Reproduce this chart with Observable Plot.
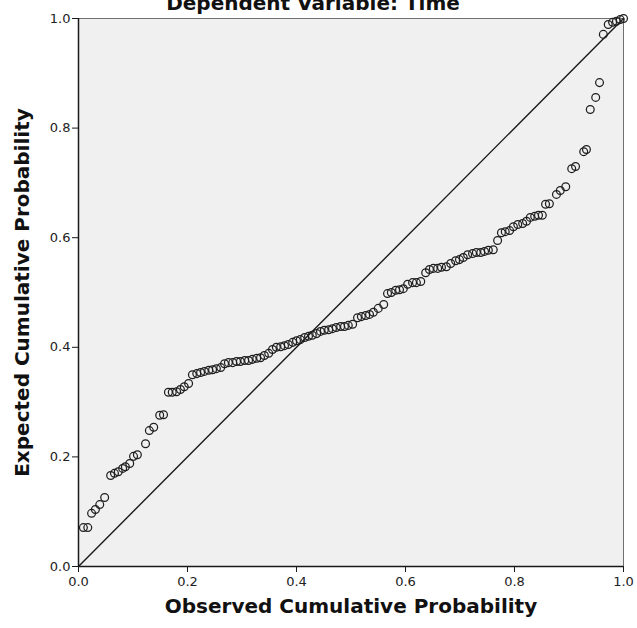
<!DOCTYPE html>
<html>
<head>
<meta charset="utf-8">
<script src="https://cdn.jsdelivr.net/npm/d3@7"></script>
<script src="https://cdn.jsdelivr.net/npm/@observablehq/plot@0.6"></script>
<style>
  body { margin: 0; background: #fff; }
</style>
</head>
<body>
<div id="chart"></div>
<script>
// Normal P-P plot of regression standardized residuals (dependent variable: Time)
const observed = [
  0.009, 0.017, 0.024, 0.031, 0.039, 0.048, 0.059, 0.066, 0.073, 0.081,
  0.086, 0.094, 0.101, 0.108, 0.123, 0.130, 0.138, 0.149, 0.156, 0.165,
  0.172, 0.180, 0.187, 0.194, 0.202, 0.209, 0.217, 0.224, 0.231, 0.239,
  0.246, 0.253, 0.261, 0.268, 0.275, 0.283, 0.290, 0.297, 0.305, 0.312,
  0.319, 0.327, 0.334, 0.341, 0.349, 0.356, 0.363, 0.371, 0.378, 0.385,
  0.393, 0.400, 0.407, 0.415, 0.422, 0.429, 0.437, 0.444, 0.451, 0.459,
  0.466, 0.473, 0.481, 0.488, 0.495, 0.503, 0.512, 0.519, 0.527, 0.534,
  0.541, 0.550, 0.560, 0.567, 0.574, 0.582, 0.589, 0.596, 0.604, 0.613,
  0.620, 0.628, 0.637, 0.644, 0.651, 0.659, 0.666, 0.675, 0.683, 0.692,
  0.699, 0.706, 0.714, 0.723, 0.730, 0.738, 0.745, 0.752, 0.761, 0.769,
  0.776, 0.783, 0.791, 0.798, 0.806, 0.815, 0.822, 0.829, 0.837, 0.844,
  0.851, 0.857, 0.864, 0.877, 0.884, 0.894, 0.905, 0.912, 0.927, 0.932,
  0.939, 0.949, 0.956, 0.963, 0.972, 0.980, 0.987, 0.994, 1.000
];
const expected = [
  0.071, 0.071, 0.097, 0.104, 0.113, 0.126, 0.166, 0.170, 0.173, 0.179,
  0.182, 0.188, 0.201, 0.204, 0.224, 0.248, 0.254, 0.276, 0.277, 0.318,
  0.318, 0.319, 0.323, 0.328, 0.334, 0.350, 0.352, 0.354, 0.356, 0.358,
  0.359, 0.361, 0.363, 0.370, 0.372, 0.372, 0.374, 0.374, 0.376, 0.376,
  0.378, 0.380, 0.381, 0.385, 0.389, 0.396, 0.400, 0.401, 0.403, 0.405,
  0.409, 0.412, 0.414, 0.418, 0.420, 0.422, 0.425, 0.429, 0.431, 0.432,
  0.434, 0.436, 0.438, 0.438, 0.440, 0.442, 0.454, 0.456, 0.458, 0.460,
  0.464, 0.471, 0.478, 0.498, 0.500, 0.504, 0.505, 0.507, 0.515, 0.518,
  0.518, 0.520, 0.536, 0.542, 0.544, 0.544, 0.546, 0.547, 0.553, 0.558,
  0.560, 0.564, 0.569, 0.571, 0.573, 0.573, 0.575, 0.577, 0.578, 0.595,
  0.609, 0.611, 0.613, 0.620, 0.624, 0.626, 0.630, 0.637, 0.639, 0.641,
  0.641, 0.661, 0.662, 0.679, 0.686, 0.693, 0.726, 0.730, 0.757, 0.761,
  0.834, 0.856, 0.883, 0.971, 0.989, 0.993, 0.995, 0.998, 1.000
];
const tickValues = [0, 0.2, 0.4, 0.6, 0.8, 1.0];
const diagonal = [0, 1];
const chartTitle = "Dependent Variable: Time";
const xTitle = "Observed Cumulative Probability";
const yTitle = "Expected Cumulative Probability";

const points = observed.map((x, i) => ({x, y: expected[i]}));

const chart = Plot.plot({
  width: 637,
  height: 628,
  marginLeft: 78,
  marginRight: 14,
  marginTop: 18,
  marginBottom: 62,
  style: {fontFamily: "DejaVu Sans", fontSize: "12px", background: "#fff", color: "#222"},
  x: {domain: [0, 1], axis: null},
  y: {domain: [0, 1], axis: null},
  marks: [
    Plot.frame({fill: "#f0f0f0"}),
    Plot.frame({stroke: "#707070", strokeWidth: 1}),
    Plot.line(diagonal, {x: d => d, y: d => d, stroke: "#1a1a1a", strokeWidth: 1.4}),
    Plot.dot(points, {x: "x", y: "y", r: 3.9, stroke: "#1e1e1e", strokeWidth: 1.25, fill: "none"}),
    Plot.ruleX([0], {stroke: "#1a1a1a", strokeWidth: 1.5}),
    Plot.ruleY([0], {stroke: "#1a1a1a", strokeWidth: 1.5}),
    Plot.axisX({ticks: tickValues, tickFormat: d3.format(".1f"), tickSize: 6, tickPadding: 4, label: null, fontSize: 13, stroke: "#1a1a1a"}),
    Plot.axisY({ticks: tickValues, tickFormat: d3.format(".1f"), tickSize: 6, tickPadding: 2, label: null, fontSize: 13, stroke: "#1a1a1a"}),
    Plot.text([xTitle], {frameAnchor: "bottom", dy: 46, textAnchor: "middle", fontSize: 20, fontWeight: "bold", fill: "#111"}),
    Plot.text([yTitle], {frameAnchor: "left", dx: -56, textAnchor: "middle", rotate: -90, fontSize: 20, fontWeight: "bold", fill: "#111"}),
    Plot.text([chartTitle], {frameAnchor: "top", dx: -38, dy: -9, textAnchor: "middle", lineAnchor: "bottom", fontSize: 20, fontWeight: "bold", fill: "#111"})
  ]
});

document.getElementById("chart").appendChild(chart);
</script>
</body>
</html>
